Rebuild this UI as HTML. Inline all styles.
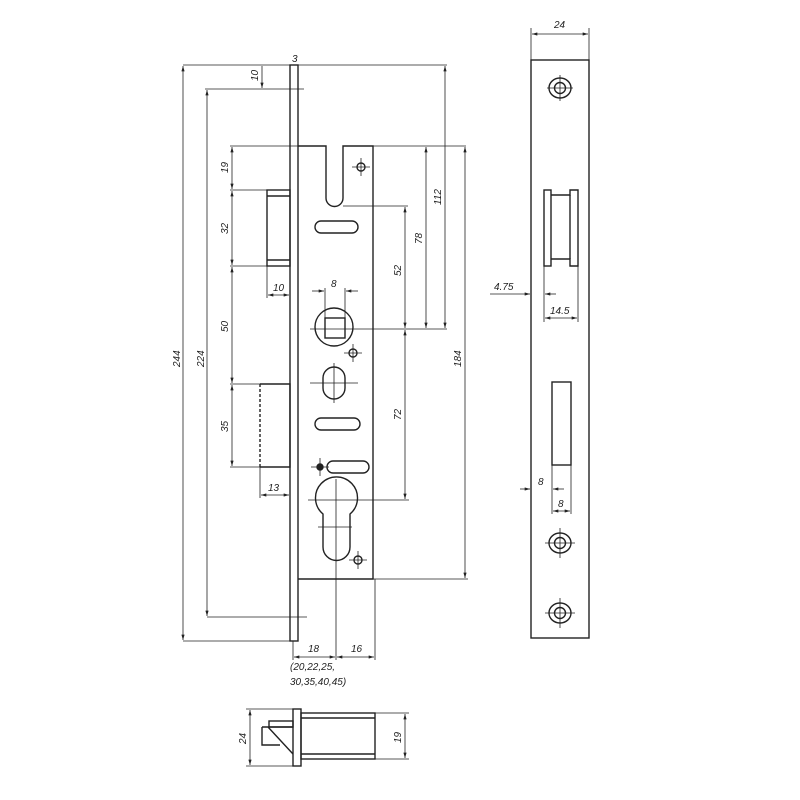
<!DOCTYPE html>
<html><head><meta charset="utf-8"><style>
html,body{margin:0;padding:0;background:#fff}
svg{display:block}
text{font-family:"Liberation Sans",sans-serif;font-style:italic;font-size:10px;fill:#222}
</style></head><body>
<svg width="800" height="800" viewBox="0 0 800 800" xmlns="http://www.w3.org/2000/svg">
<defs><marker id="a" viewBox="0 0 10 6" refX="10" refY="3" markerWidth="7" markerHeight="4" orient="auto-start-reverse"><path d="M0,0L10,3L0,6z" fill="#222"/></marker></defs>
<g fill="none" stroke="#222" stroke-width="1.4">
<rect x="290" y="65" width="8" height="576"/>
<path d="M298,146H326V198A8.5,8.5 0 0 0 343,198V146H373V579H298"/>
<rect x="267" y="190" width="23" height="76"/>
<line x1="267" y1="196" x2="290" y2="196"/><line x1="267" y1="260" x2="290" y2="260"/>
<path d="M260,384H290V467H260" /><line x1="260" y1="384" x2="260" y2="467" stroke-dasharray="3,2"/>
<rect x="315" y="221" width="43" height="12" rx="6"/>
<rect x="315" y="418" width="45" height="12" rx="6"/>
<rect x="327" y="461" width="42" height="12" rx="6"/>
<circle cx="334" cy="327" r="19"/>
<rect x="325" y="318" width="20" height="20"/>
<rect x="323" y="367" width="22" height="32" rx="11"/>
<path d="M323,514A21,21 0 1 1 350,514V547A13.5,13.5 0 0 1 323,547Z"/>
<circle cx="361" cy="167" r="4"/><circle cx="353" cy="353" r="4"/><circle cx="358" cy="560" r="4"/>
<circle cx="320" cy="467" r="3" fill="#222"/>
</g>
<g stroke="#222" stroke-width="0.8" fill="none">
<path d="M352,167H370M361,158V176M344,353H362M353,344V362M349,560H367M358,551V569M311,467H329M320,458V476"/>
<path d="M310,383H358M334,363V403M308,500H409M336,479V660M318,527H352"/>
<path d="M183,65H447M183,641H290"/>
<line x1="183" y1="66" x2="183" y2="640" marker-start="url(#a)" marker-end="url(#a)"/>
<path d="M205,89H304M207,617H307"/>
<line x1="207" y1="90" x2="207" y2="616" marker-start="url(#a)" marker-end="url(#a)"/>
<line x1="262" y1="66" x2="262" y2="88" marker-end="url(#a)"/>
<path d="M230,146H298M373,146H466M230,190H267M230,266H267M230,384H260M230,467H260M343,206H408M310,329H447M373,579H468"/>
<line x1="232" y1="147" x2="232" y2="189" marker-start="url(#a)" marker-end="url(#a)"/>
<line x1="232" y1="191" x2="232" y2="265" marker-start="url(#a)" marker-end="url(#a)"/>
<line x1="232" y1="267" x2="232" y2="383" marker-start="url(#a)" marker-end="url(#a)"/>
<line x1="232" y1="385" x2="232" y2="466" marker-start="url(#a)" marker-end="url(#a)"/>
<path d="M267,266V298M260,467V498"/>
<line x1="268" y1="295" x2="289" y2="295" marker-start="url(#a)" marker-end="url(#a)"/>
<line x1="261" y1="495" x2="289" y2="495" marker-start="url(#a)" marker-end="url(#a)"/>
<path d="M325,288V320M345,288V320"/>
<line x1="312" y1="291" x2="324" y2="291" marker-end="url(#a)"/><line x1="358" y1="291" x2="346" y2="291" marker-end="url(#a)"/>
<line x1="405" y1="207" x2="405" y2="328" marker-start="url(#a)" marker-end="url(#a)"/>
<line x1="405" y1="330" x2="405" y2="499" marker-start="url(#a)" marker-end="url(#a)"/>
<line x1="426" y1="147" x2="426" y2="328" marker-start="url(#a)" marker-end="url(#a)"/>
<line x1="445" y1="66" x2="445" y2="328" marker-start="url(#a)" marker-end="url(#a)"/>
<line x1="465" y1="147" x2="465" y2="578" marker-start="url(#a)" marker-end="url(#a)"/>
<path d="M293,641V660M375,579V660"/>
<line x1="294" y1="657" x2="335" y2="657" marker-start="url(#a)" marker-end="url(#a)"/>
<line x1="337" y1="657" x2="374" y2="657" marker-start="url(#a)" marker-end="url(#a)"/>
</g>
<g fill="none" stroke="#222" stroke-width="1.4">
<rect x="531" y="60" width="58" height="578"/>
<rect x="544" y="190" width="7" height="76"/>
<path d="M551,195H570V190H578V266H570V259H551"/>
<line x1="570" y1="195" x2="570" y2="259"/>
<rect x="552" y="382" width="19" height="83"/>
<ellipse cx="560" cy="88" rx="11" ry="10"/><circle cx="560" cy="88" r="5.5"/>
<ellipse cx="560" cy="543" rx="11" ry="10"/><circle cx="560" cy="543" r="5.5"/>
<ellipse cx="560" cy="613" rx="11" ry="10"/><circle cx="560" cy="613" r="5.5"/>
</g>
<g stroke="#222" stroke-width="0.8" fill="none">
<path d="M547,88H573M560,75V101M545,543H575M560,528V558M545,613H575M560,598V628"/>
<path d="M531,28V60M589,28V60M544,266V322M578,266V322M552,465V514M571,465V514"/>
<line x1="532" y1="34" x2="588" y2="34" marker-start="url(#a)" marker-end="url(#a)"/>
<line x1="490" y1="294" x2="530" y2="294" marker-end="url(#a)"/><line x1="556" y1="294" x2="545" y2="294" marker-end="url(#a)"/>
<line x1="545" y1="318" x2="577" y2="318" marker-start="url(#a)" marker-end="url(#a)"/>
<line x1="520" y1="489" x2="530" y2="489" marker-end="url(#a)"/><line x1="564" y1="489" x2="553" y2="489" marker-end="url(#a)"/>
<line x1="553" y1="511" x2="570" y2="511" marker-start="url(#a)" marker-end="url(#a)"/>
</g>
<g fill="none" stroke="#222" stroke-width="1.4">
<rect x="293" y="709" width="8" height="57"/>
<rect x="301" y="713" width="74" height="46"/>
<path d="M301,718H375M301,754H375"/>
<rect x="269" y="721" width="24" height="6"/>
<path d="M262,727H293M262,727V745H280M268,727L293,754"/>
</g>
<g stroke="#222" stroke-width="0.8" fill="none">
<path d="M246,709H293M246,766H293M375,713H409M375,759H409"/>
<line x1="250" y1="710" x2="250" y2="765" marker-start="url(#a)" marker-end="url(#a)"/>
<line x1="405" y1="714" x2="405" y2="758" marker-start="url(#a)" marker-end="url(#a)"/>
</g>
<text x="292" y="62">3</text>
<text transform="translate(258,81) rotate(-90)">10</text>
<text transform="translate(228,173) rotate(-90)">19</text>
<text transform="translate(228,234) rotate(-90)">32</text>
<text transform="translate(228,332) rotate(-90)">50</text>
<text transform="translate(228,432) rotate(-90)">35</text>
<text transform="translate(180,367) rotate(-90)">244</text>
<text transform="translate(204,367) rotate(-90)">224</text>
<text x="273" y="291">10</text>
<text x="268" y="491">13</text>
<text x="331" y="287">8</text>
<text transform="translate(401,276) rotate(-90)">52</text>
<text transform="translate(401,420) rotate(-90)">72</text>
<text transform="translate(422,244) rotate(-90)">78</text>
<text transform="translate(441,205) rotate(-90)">112</text>
<text transform="translate(461,367) rotate(-90)">184</text>
<text x="308" y="652">18</text>
<text x="351" y="652">16</text>
<text x="290" y="670">(20,22,25,</text>
<text x="290" y="685">30,35,40,45)</text>
<text x="554" y="28">24</text>
<text x="494" y="290">4.75</text>
<text x="550" y="314">14.5</text>
<text x="538" y="485">8</text>
<text x="558" y="507">8</text>
<text transform="translate(246,744) rotate(-90)">24</text>
<text transform="translate(401,743) rotate(-90)">19</text>
</svg>
</body></html>
